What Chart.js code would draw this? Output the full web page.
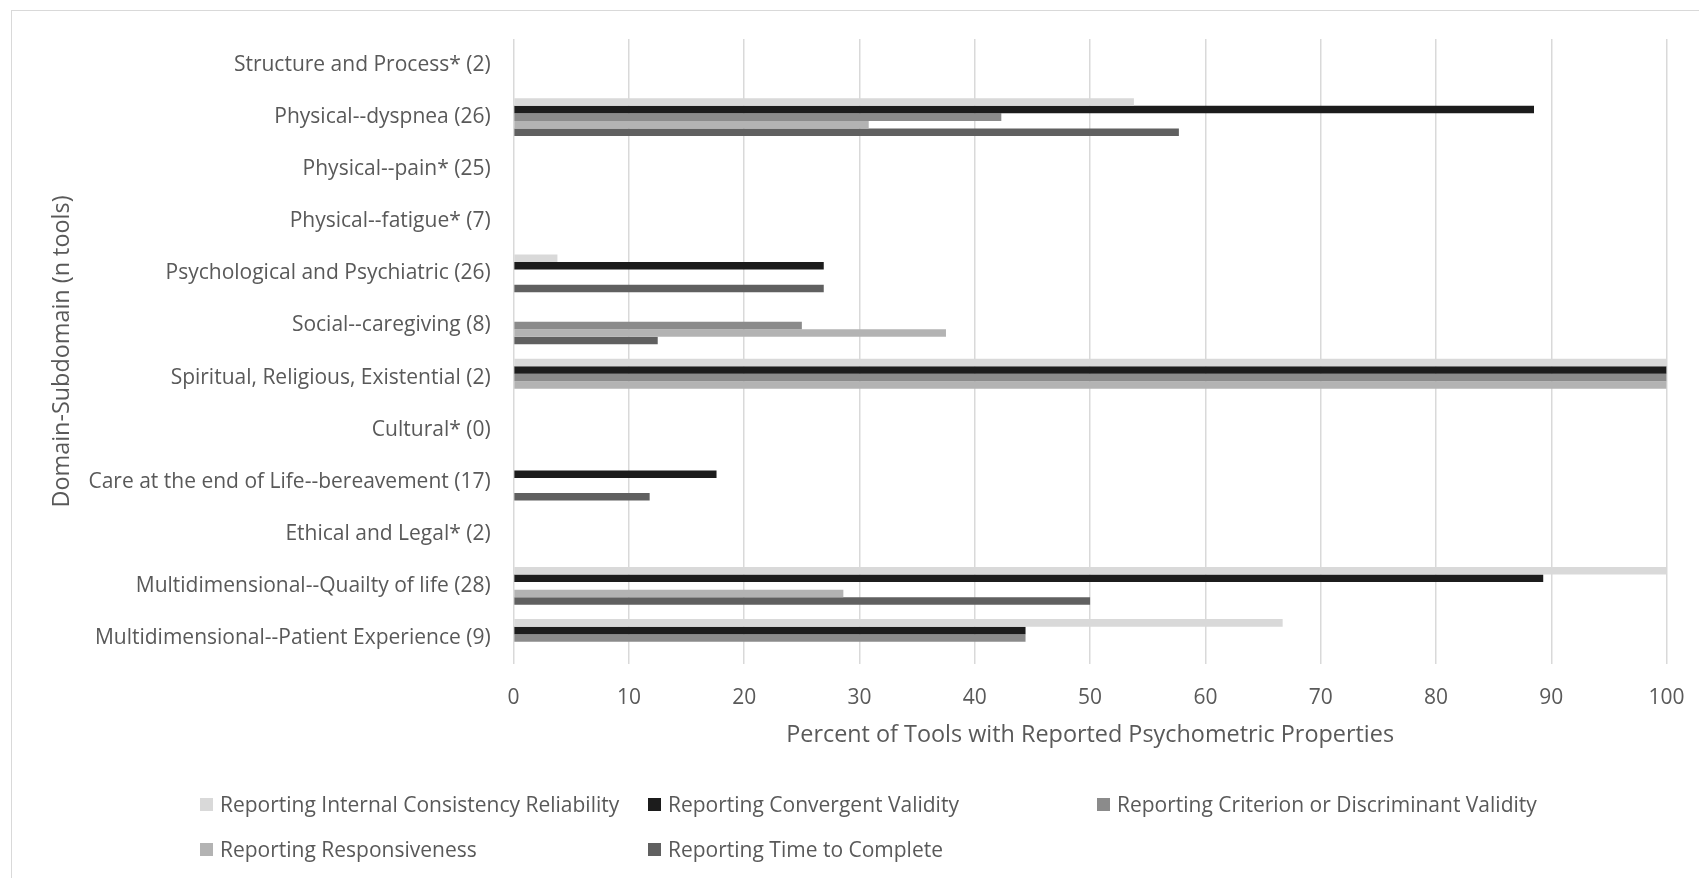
<!DOCTYPE html>
<html>
<head>
<meta charset="utf-8">
<script src="https://cdn.jsdelivr.net/npm/chart.js@4"></script>
<style>
  html, body { margin: 0; padding: 0; background: #ffffff; overflow: hidden; }
  #wrap { position: relative; width: 1699px; height: 878px; }
  #frame { position: absolute; left: 11px; top: 10px; width: 1720px; height: 900px; border: 1.5px solid #d9d9d9; box-sizing: border-box; }
  canvas { position: absolute; left: 0; top: 0; }
  #legend { position: absolute; left: 0; top: 0; width: 1699px; height: 878px; pointer-events: none; font-family: "Open Sans", sans-serif; font-size: 21px; color: #595959; }
  .item { position: absolute; display: flex; align-items: center; white-space: nowrap; }
  .box { width: 13px; height: 13px; margin-right: 7px; }
</style>
</head>
<body>
<div id="wrap">
  <div id="frame"></div>
  <canvas id="c" width="1699" height="878"></canvas>
  <div id="legend"></div>
</div>
<script>
const categories = [
  "Structure and Process* (2)",
  "Physical--dyspnea (26)",
  "Physical--pain* (25)",
  "Physical--fatigue* (7)",
  "Psychological and Psychiatric (26)",
  "Social--caregiving (8)",
  "Spiritual, Religious, Existential (2)",
  "Cultural* (0)",
  "Care at the end of Life--bereavement (17)",
  "Ethical and Legal* (2)",
  "Multidimensional--Quailty of life (28)",
  "Multidimensional--Patient Experience (9)"
];
const seriesNames = [
  "Reporting Internal Consistency Reliability",
  "Reporting Convergent Validity",
  "Reporting Criterion or Discriminant Validity",
  "Reporting Responsiveness",
  "Reporting Time to Complete"
];
const internalConsistency = [0, 53.8, 0, 0, 3.8, 0, 100, 0, 0, 0, 100, 66.7];
const convergentValidity  = [0, 88.5, 0, 0, 26.9, 0, 100, 0, 17.6, 0, 89.3, 44.4];
const criterionValidity   = [0, 42.3, 0, 0, 0, 25, 100, 0, 0, 0, 0, 44.4];
const responsiveness      = [0, 30.8, 0, 0, 0, 37.5, 100, 0, 0, 0, 28.6, 0];
const timeToComplete      = [0, 57.7, 0, 0, 26.9, 12.5, 0, 0, 11.8, 0, 50, 0];
const xTicks = [0, 10, 20, 30, 40, 50, 60, 70, 80, 90, 100];
const xTitle = "Percent of Tools with Reported Psychometric Properties";
const yTitle = "Domain-Subdomain (n tools)";

const colors = ["#d9d9d9", "#1c1c1c", "#8b8b8b", "#b3b3b3", "#606060"];
const seriesValues = [internalConsistency, convergentValidity, criterionValidity, responsiveness, timeToComplete];

const textColor = "#595959";
const fontFamily = "'Open Sans', sans-serif";

const datasets = seriesNames.map((name, i) => ({
  label: name,
  data: seriesValues[i],
  backgroundColor: colors[i],
  borderWidth: 0,
  categoryPercentage: 0.725,
  barPercentage: 1.0
}));

new Chart(document.getElementById("c"), {
  type: "bar",
  data: { labels: categories, datasets },
  options: {
    indexAxis: "y",
    responsive: false,
    animation: false,
    devicePixelRatio: 1,
    layout: { padding: { left: 10, top: 39, right: 32.4, bottom: 114 } },
    plugins: { legend: { display: false }, tooltip: { enabled: false } },
    scales: {
      x: {
        min: 0, max: 100,
        afterBuildTicks: (s) => { s.ticks = xTicks.map(v => ({ value: v })); },
        afterFit: (s) => { s.height = 100; s.paddingLeft = 0; s.paddingRight = 0; },
        grid: { color: "#d9d9d9", lineWidth: 1.5, drawTicks: false },
        border: { display: false },
        ticks: { color: textColor, font: { family: fontFamily, size: 21 }, padding: 21 },
        title: { display: true, text: xTitle, color: textColor, font: { family: fontFamily, size: 23.4 }, padding: { top: 0, bottom: 15 } }
      },
      y: {
        afterFit: (s) => { s.width = 503.6; s.paddingTop = 0; s.paddingBottom = 0; },
        grid: { display: false },
        border: { display: false },
        ticks: { color: textColor, font: { family: fontFamily, size: 21 }, padding: 15 },
        title: { display: true, text: yTitle, color: textColor, font: { family: fontFamily, size: 23.4 }, padding: { top: 38, bottom: 0 } }
      }
    }
  }
});

// HTML legend built from the series arrays (grid of columns, as in the reference)
const legend = document.getElementById("legend");
const colX = [200, 648, 1097];
const rowY = [804, 849];
seriesNames.forEach((name, i) => {
  const row = Math.floor(i / 3), col = i % 3;
  const item = document.createElement("div");
  item.className = "item";
  item.style.left = colX[col] + "px";
  item.style.top = (rowY[row] - 15) + "px";
  item.style.height = "30px";
  const box = document.createElement("span");
  box.className = "box";
  box.style.background = colors[i];
  const txt = document.createElement("span");
  txt.textContent = name;
  item.appendChild(box);
  item.appendChild(txt);
  legend.appendChild(item);
});
</script>
</body>
</html>
